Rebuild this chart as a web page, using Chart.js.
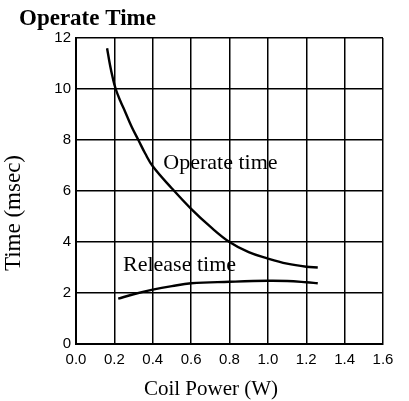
<!DOCTYPE html>
<html>
<head>
<meta charset="utf-8">
<script src="https://cdn.jsdelivr.net/npm/chart.js@4/dist/chart.umd.min.js"></script>
<style>
  html, body { margin: 0; padding: 0; background: #fff; }
  #wrap { width: 409px; height: 401px; }
</style>
</head>
<body>
<div id="wrap"><canvas id="chart" width="409" height="401"></canvas></div>
<script>
// values
const operatePower = [0.162, 0.177, 0.192, 0.207, 0.23, 0.256, 0.29, 0.325, 0.36, 0.4, 0.5, 0.6, 0.7, 0.8, 0.9, 1.0, 1.1, 1.2, 1.26];
const operateTime  = [11.6, 10.95, 10.42, 10.0, 9.55, 9.11, 8.52, 8.0, 7.48, 6.97, 6.1, 5.3, 4.6, 4.0, 3.6, 3.35, 3.15, 3.03, 3.0];
const releasePower = [0.22, 0.3, 0.4, 0.5, 0.6, 0.8, 1.0, 1.1, 1.2, 1.26];
const releaseTime  = [1.78, 1.95, 2.13, 2.27, 2.38, 2.44, 2.48, 2.47, 2.42, 2.38];
const xTicks = [0.0, 0.2, 0.4, 0.6, 0.8, 1.0, 1.2, 1.4, 1.6];
const yTicks = [0, 2, 4, 6, 8, 10, 12];
const curveLabels = [
    { text: 'Operate time', x: 0.455, y: 7.1 },
    { text: 'Release time', x: 0.245, y: 3.1 }
];

const toPoints = (xs, ys) => xs.map((x, i) => ({ x: x, y: ys[i] }));

const serif = "'Liberation Serif', 'Times New Roman', serif";
const sans = "'Liberation Sans', Arial, sans-serif";

// title, axis names and curve names drawn as plain text
const textPlugin = {
    id: 'textPlugin',
    afterDraw(chart) {
        const ctx = chart.ctx;
        const xs = chart.scales.x, ys = chart.scales.y;
        ctx.save();
        ctx.fillStyle = '#000';
        ctx.textBaseline = 'middle';
        ctx.textAlign = 'left';
        ctx.font = 'bold 23px ' + serif;
        ctx.fillText('Operate Time', 19, 19);

        ctx.font = '22px ' + serif;
        curveLabels.forEach(l => {
            ctx.fillText(l.text, xs.getPixelForValue(l.x), ys.getPixelForValue(l.y));
        });

        ctx.textAlign = 'center';
        ctx.font = '21px ' + serif;
        ctx.fillText('Coil Power (W)', 211, 389);

        ctx.translate(14, 213);
        ctx.rotate(-Math.PI / 2);
        ctx.font = '23px ' + serif;
        ctx.fillText('Time (msec)', 0, 0);
        ctx.restore();
    }
};

new Chart(document.getElementById('chart'), {
    type: 'line',
    data: {
        datasets: [
            { data: toPoints(operatePower, operateTime) },
            { data: toPoints(releasePower, releaseTime) }
        ]
    },
    options: {
        responsive: false,
        animation: false,
        layout: { padding: { top: 38, right: 26, left: 0, bottom: 0 } },
        elements: {
            line: { borderColor: '#000', borderWidth: 2.4, tension: 0.4, capBezierPoints: true },
            point: { radius: 0 }
        },
        plugins: {
            legend: { display: false },
            tooltip: { enabled: false }
        },
        scales: {
            x: {
                type: 'linear',
                min: 0,
                max: 1.6,
                afterBuildTicks: s => { s.ticks = xTicks.map(v => ({ value: v })); },
                afterFit: s => { s.height = 57; },
                ticks: {
                    color: '#000',
                    font: { family: sans, size: 15 },
                    padding: 7,
                    maxRotation: 0,
                    callback: v => v.toFixed(1)
                },
                grid: { color: '#000', lineWidth: 1.5, drawTicks: false },
                border: { color: '#000', width: 2 }
            },
            y: {
                min: 0,
                max: 12,
                afterBuildTicks: s => { s.ticks = yTicks.map(v => ({ value: v })); },
                afterFit: s => { s.width = 76; },
                ticks: {
                    color: '#000',
                    font: { family: sans, size: 15 },
                    padding: 5
                },
                grid: { color: '#000', lineWidth: 1.5, drawTicks: false },
                border: { color: '#000', width: 2 }
            }
        }
    },
    plugins: [textPlugin]
});
</script>
</body>
</html>
